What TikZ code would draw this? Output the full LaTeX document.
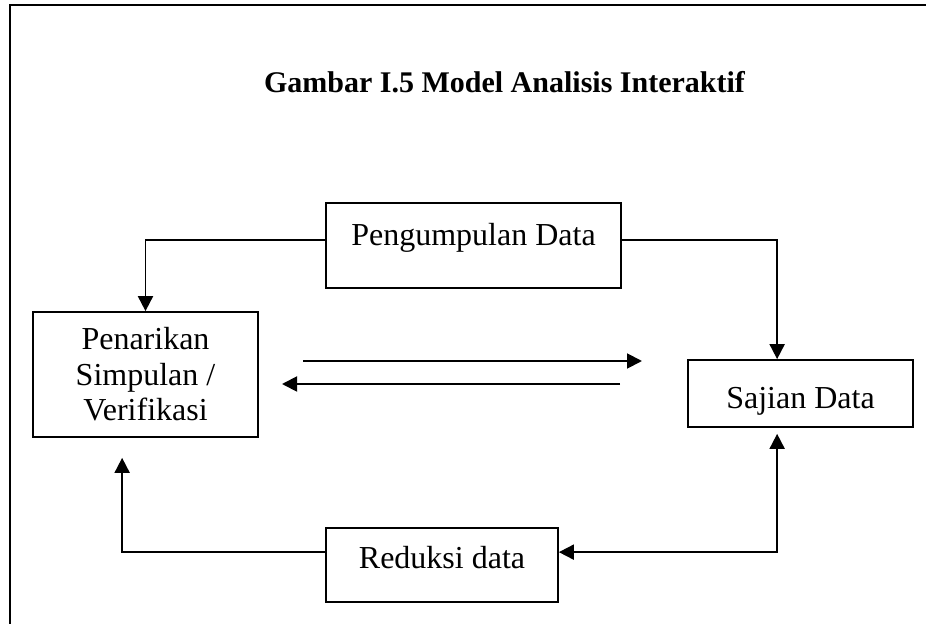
\documentclass[tikz,border=0pt]{standalone}
\usepackage{fontspec}
\setmainfont{Liberation Serif}
\usetikzlibrary{arrows.meta,calc}
\begin{document}
\begin{tikzpicture}[x=0.75pt,y=-0.75pt,
  boxnode/.style={draw,line width=1.3pt,inner sep=0pt,align=center,
    font=\fontsize{24}{26.6}\selectfont},
  conn/.style={line width=1.4pt,-{Triangle[length=11.25pt,width=11.25pt]}},
  connboth/.style={line width=1.4pt,{Triangle[length=11.25pt,width=11.25pt]}-{Triangle[length=11.25pt,width=11.25pt]}},
  frameline/.style={line width=1.5pt}]
\useasboundingbox (0,0) rectangle (926,624);
\draw[frameline] (10,624) -- (10,5.5) -- (926,5.5);

\node[anchor=base,font=\fontsize{22.5}{27}\selectfont\bfseries] (title) at (504.5,93) {Gambar I.5 Model Analisis Interaktif};

\node[boxnode,minimum width=221.25pt,minimum height=63.75pt,text height=10pt,text depth=10pt] (peng) at (473.5,245.5) {Pengumpulan Data};
\node[boxnode,minimum width=168.75pt,minimum height=93.75pt] (pen) at (145.5,374.5) {Penarikan\\Simpulan /\\Verifikasi};
\node[boxnode,minimum width=168.75pt,minimum height=50.25pt,text height=24pt,text depth=2.25pt] (saj) at (800.5,393.5) {Sajian Data};
\node[boxnode,minimum width=174pt,minimum height=55.5pt,text height=12pt,text depth=7.5pt] (red) at (442,565) {Reduksi data};

\coordinate (m1) at (303,361);
\coordinate (m2) at (642,361);
\coordinate (m3) at (620,384);
\coordinate (m4) at (282,384);
\coordinate (penin) at ($(pen.south west)+(90,20)$);
\coordinate (sajin) at ($(saj.south west)+(90,6)$);

\draw[conn] ($(peng.north west)+(0,38)$) -| (pen.north);
\draw[conn] ($(peng.north east)+(0,38)$) -| ($(saj.north west)+(90,0)$);
\draw[conn] (m1) -- (m2);
\draw[conn] (m3) -- (m4);
\draw[conn] ($(red.north west)+(0,25)$) -| (penin);
\draw[connboth] (sajin) |- ($(red.north east)+(0,25)$);
\end{tikzpicture}
\end{document}
